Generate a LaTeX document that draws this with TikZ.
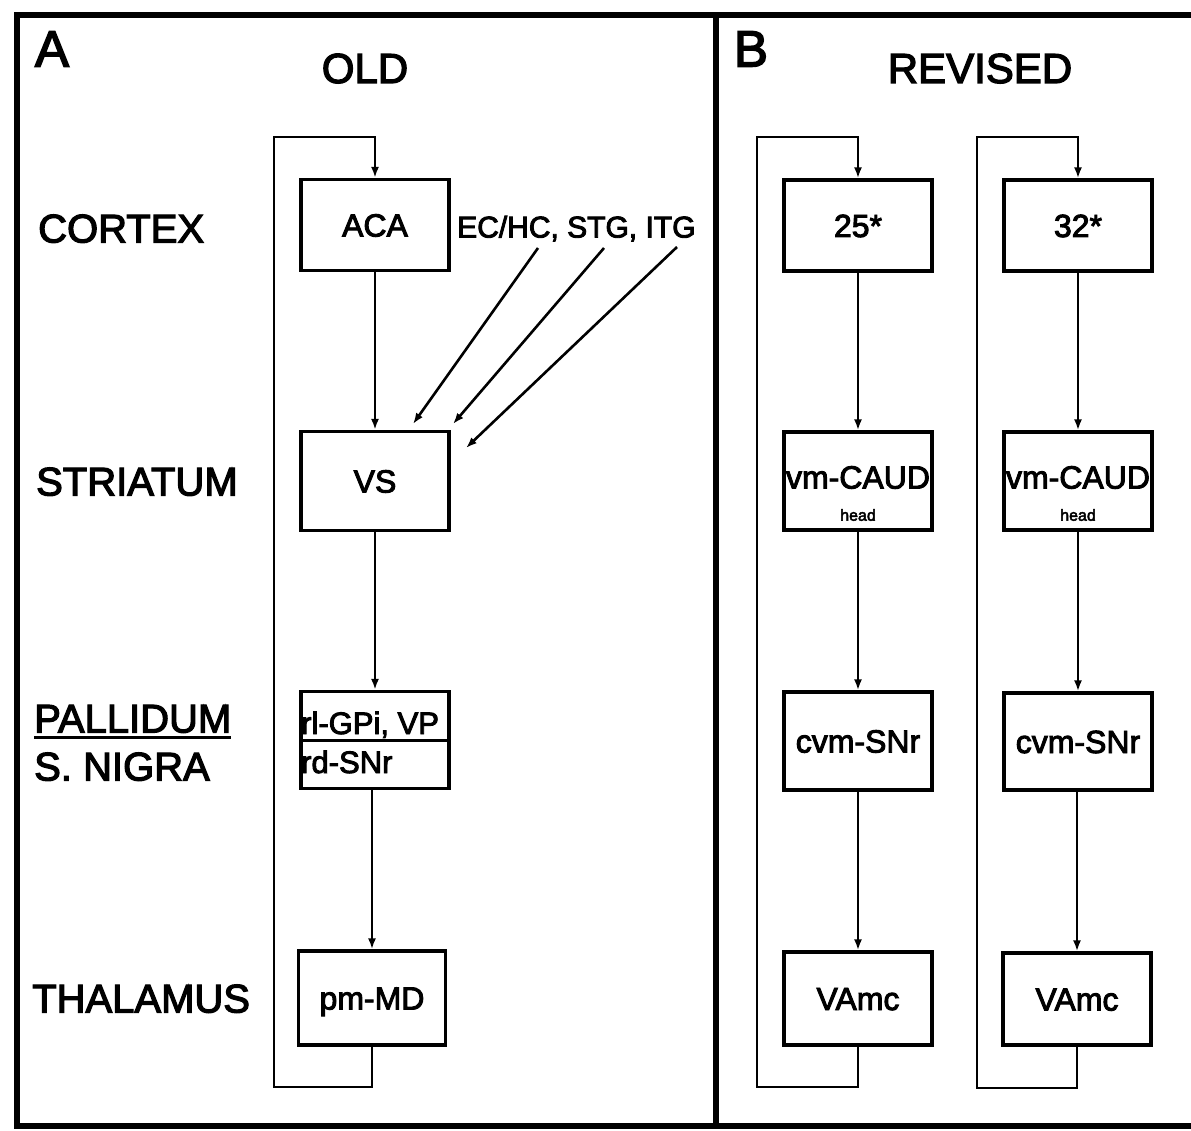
\documentclass[tikz,border=0pt]{standalone}
\usepackage{fontspec}
\setmainfont{Liberation Sans}[FakeBold=3]
\usetikzlibrary{arrows.meta}
\begin{document}
\begin{tikzpicture}[x=1pt,y=-1pt,
  frame/.style={line width=6pt},
  arr/.style={line width=2.6pt,-{Latex[length=11pt,width=8pt]}},
  box/.style={draw,line width=3.2pt,inner sep=0pt,minimum width=148pt,
    font=\fontsize{32}{32}\selectfont,text height=23pt,text depth=0pt},
  lab/.style={anchor=west,inner sep=0pt,font=\fontsize{40}{40}\selectfont,text height=29pt,text depth=0pt},
  ttl/.style={inner sep=0pt,font=\fontsize{42}{42}\selectfont,text height=30pt,text depth=0pt},
  pan/.style={inner sep=0pt,font=\fontsize{51}{51}\selectfont,text height=37pt,text depth=0pt},
  sm/.style={inner sep=0pt,font=\fontsize{16}{16}\selectfont}]
\useasboundingbox (0,0) rectangle (1191,1131);
\clip (0,0) rectangle (1191,1131);
% frames
\draw[frame] (17,15) rectangle (716,1126);
\draw[frame] (716,15) rectangle (1220,1126);
% titles
\node[pan] (pA) at (52,48) {A};
\node[ttl] (tA) at (365,68) {OLD};
\node[pan] (pB) at (751,48) {B};
\node[ttl] (tB) at (980,68) {REVISED};
% row labels
\node[lab] (lc) at (38,228) {CORTEX};
\node[lab] (ls) at (36,481) {STRIATUM};
\node[lab] (lp) at (34,718) {PALLIDUM};
\draw[line width=3pt] (lp.south west) ++(0,5) coordinate (ul1) -- (ul1 -| lp.south east);
\node[lab] (ln) at (34,766) {S. NIGRA};
\node[lab] (lt) at (32,998) {THALAMUS};
% column A
\node[box,minimum height=91pt] (aca) at (375,225) {ACA};
\node[box,minimum height=99pt] (vs) at (375,481) {VS};
\node[box,draw,minimum height=97pt] (pal) at (375,740) {};
\draw[line width=3pt] (pal.west) -- (pal.east);
\node[anchor=west,inner sep=0pt,font=\fontsize{31}{31}\selectfont,text height=22pt,text depth=0pt] (gpi) at (301,723) {rl-GPi, VP};
\node[anchor=west,inner sep=0pt,font=\fontsize{31}{31}\selectfont,text height=22pt,text depth=0pt] (snr) at (301,762) {rd-SNr};
\node[box,minimum height=94pt,minimum width=147pt] (md) at (372,998) {pm-MD};
\node[anchor=west,inner sep=0pt,font=\fontsize{30}{30}\selectfont,text height=21pt,text depth=0pt] (ec) at (457,227) {EC/HC, STG, ITG};
\coordinate (e1s) at (538,248); \coordinate (e1e) at (413,424);
\coordinate (e2s) at (604,248); \coordinate (e2e) at (453,424);
\coordinate (e3s) at (677,247); \coordinate (e3e) at (466,448);
\draw[arr] (e1s) -- (e1e);
\draw[arr] (e2s) -- (e2e);
\draw[arr] (e3s) -- (e3e);
\draw[arr] (aca) -- (vs);
\draw[arr] (vs) -- (pal);
\draw[arr] (pal.south -| md.north) -- (md.north);
\coordinate (aBot) at (274,1087);
\coordinate (aTop) at (274,137);
\draw[arr] (md.south) |- (aBot) -- (aTop) -| (aca.north);
% column B1
\node[box,minimum height=91pt] (b25) at (858,225.5) {25*};
\node[box,minimum height=98pt] (b1c) at (858,481) {\raisebox{4pt}{vm-CAUD}};
\node[sm] (b1h) at (858,515) {head};
\node[box,minimum height=98pt] (b1s) at (858,741) {cvm-SNr};
\node[box,minimum height=93pt] (b1v) at (858,998.5) {VAmc};
\draw[arr] (b25) -- (b1c);
\draw[arr] (b1c) -- (b1s);
\draw[arr] (b1s) -- (b1v);
\coordinate (b1Bot) at (757,1087);
\coordinate (b1Top) at (757,137);
\draw[arr] (b1v.south) |- (b1Bot) -- (b1Top) -| (b25.north);
% column B2
\node[box,minimum height=91pt] (b32) at (1078,225.5) {32*};
\node[box,minimum height=98pt] (b2c) at (1078,481) {\raisebox{4pt}{vm-CAUD}};
\node[sm] (b2h) at (1078,515) {head};
\node[box,minimum height=97pt] (b2s) at (1078,741.5) {cvm-SNr};
\node[box,minimum height=92pt] (b2v) at (1077,999) {VAmc};
\draw[arr] (b32) -- (b2c);
\draw[arr] (b2c) -- (b2s);
\draw[arr] (b2s.south -| b2v.north) -- (b2v.north);
\coordinate (b2Bot) at (977,1088);
\coordinate (b2Top) at (977,137);
\draw[arr] (b2v.south) |- (b2Bot) -- (b2Top) -| (b32.north);
\end{tikzpicture}
\end{document}
